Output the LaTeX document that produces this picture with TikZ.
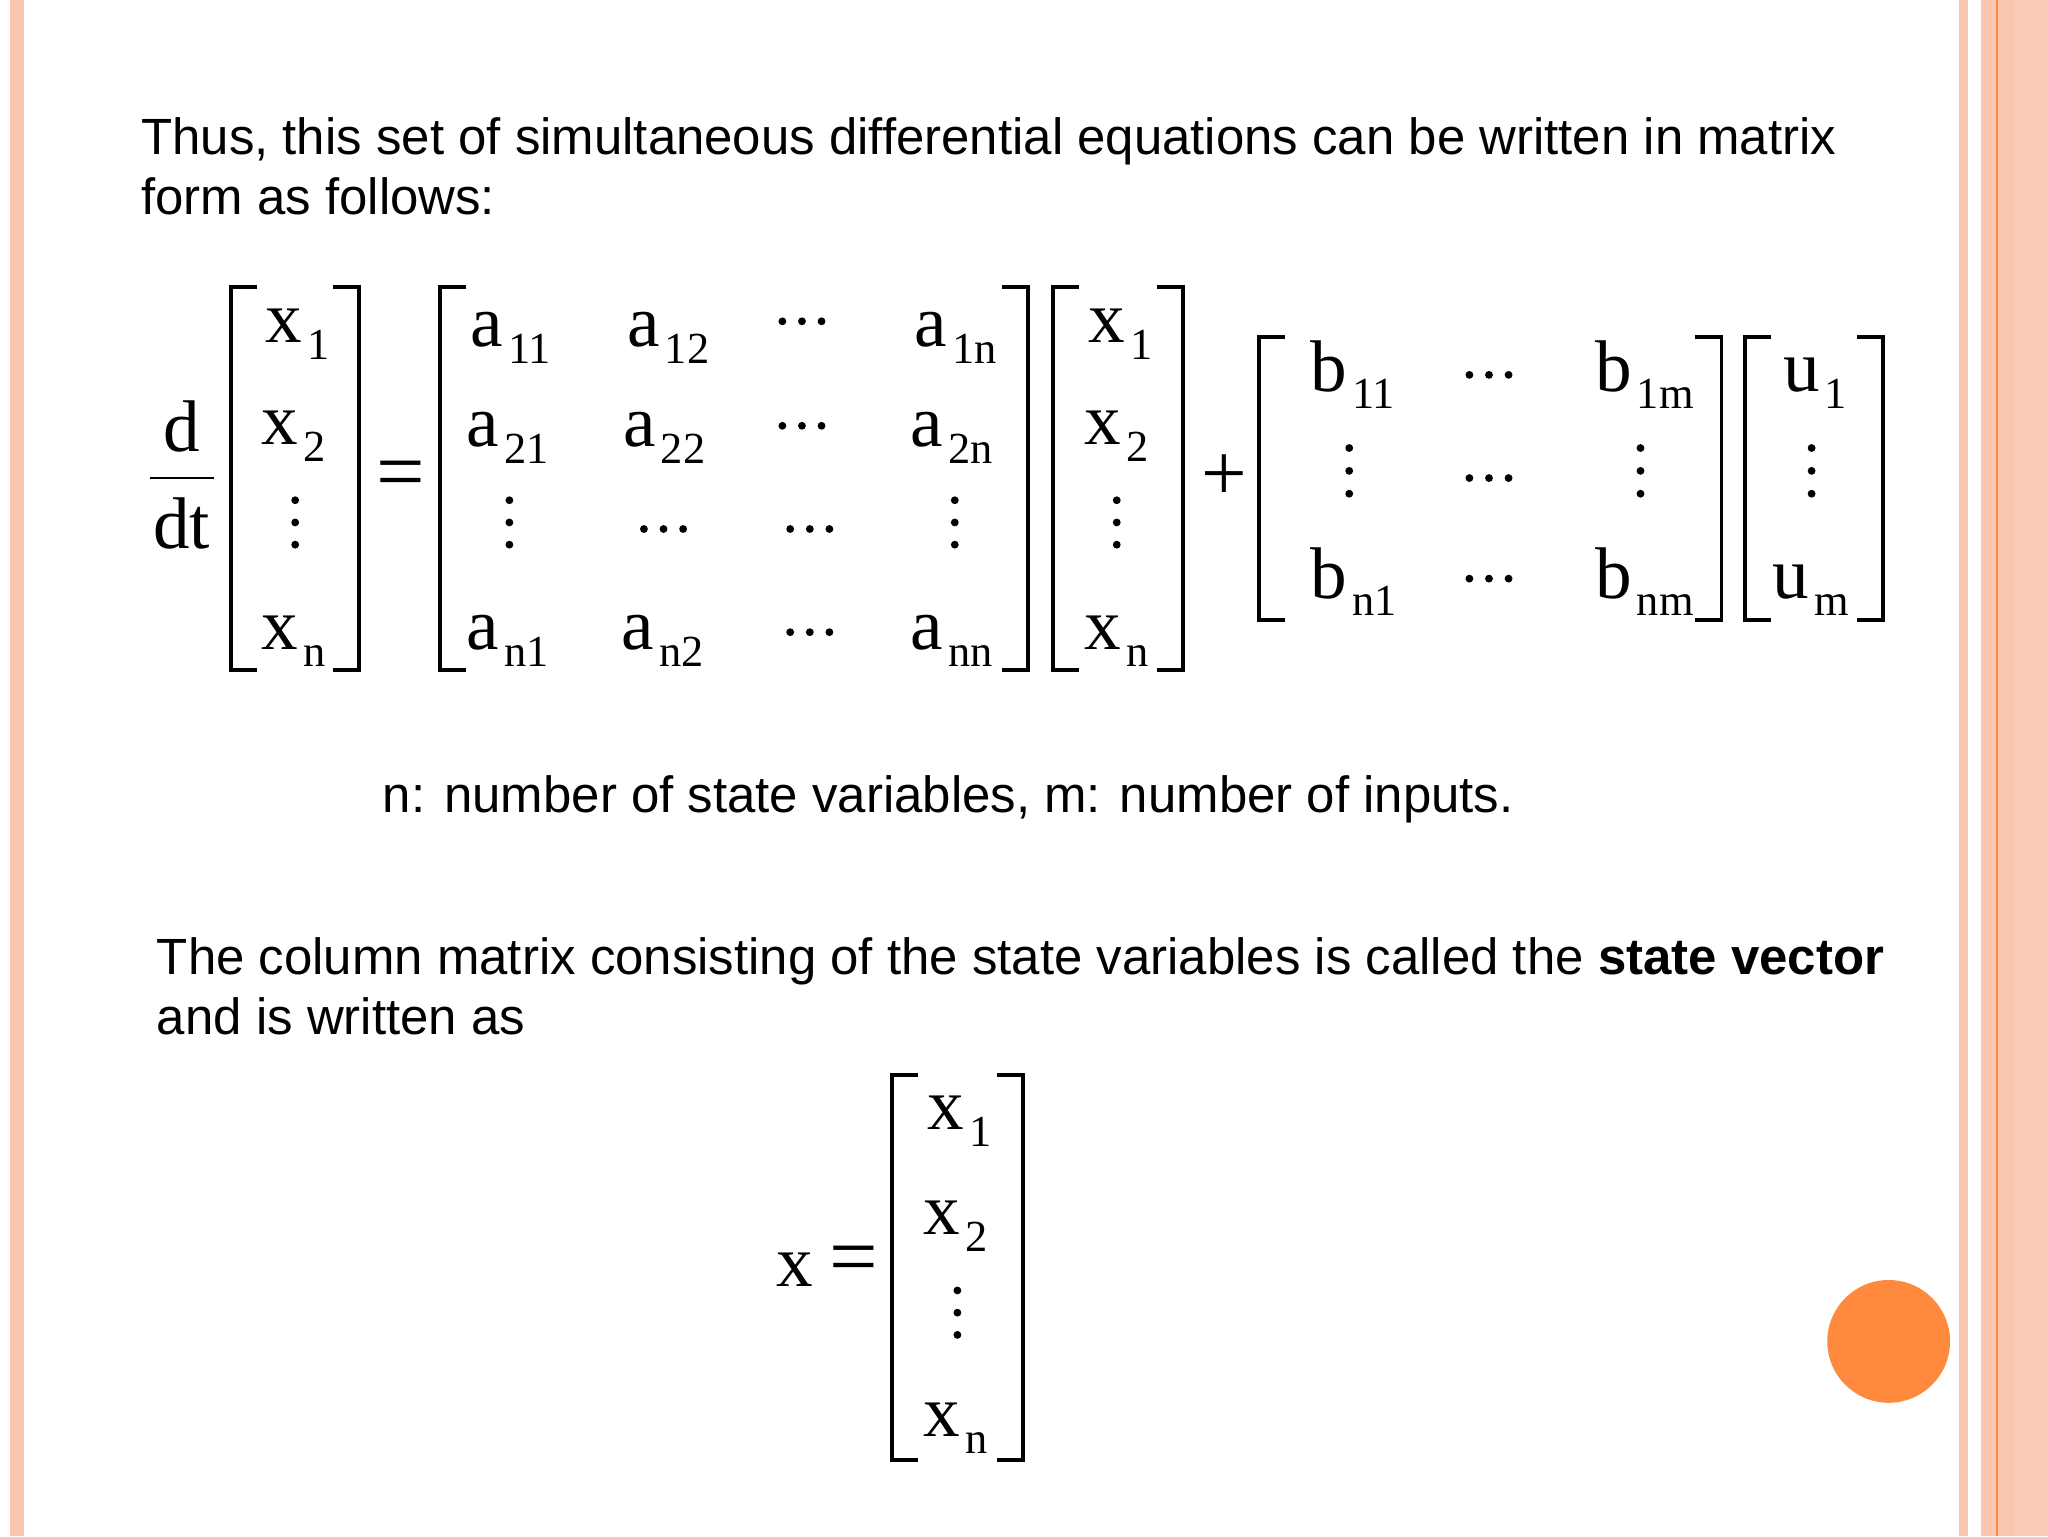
\documentclass[tikz,border=0pt]{standalone}
\usepackage{fontspec}
\setmainfont{Liberation Serif}
\newfontfamily\arialf{Liberation Sans}
\definecolor{salm}{HTML}{FBC6B0}
\definecolor{salm2}{HTML}{FCCDB6}
\definecolor{orng}{HTML}{FF8A3D}
\newcommand{\sv}[2]{\fontsize{56}{60}\selectfont #1\hspace{4pt}\raisebox{-13pt}{\fontsize{34}{36}\selectfont #2}}
\newcommand{\vd}[3]{\fill (#1,#2) circle (3) (#1,{(#2+#3)/2}) circle (3) (#1,#3) circle (3);}
\newcommand{\hd}[2]{\fill ({#1-15},#2) circle (3) (#1,#2) circle (3) ({#1+15},#2) circle (3);}
\begin{document}
\begin{tikzpicture}[x=1pt,y=-1pt,
  el/.style={anchor=base west,inner sep=0pt},
  body/.style={anchor=base west,inner sep=0pt,font=\arialf\fontsize{39}{46}\selectfont},
  brk/.style={line width=3pt}]
\useasboundingbox (0,0) rectangle (1568,1176);
\fill[white] (0,0) rectangle (1568,1176);
\fill[salm] (8,0) rectangle (18,1176);
\fill[salm] (1500,0) rectangle (1507,1176);
\fill[salm2] (1517,0) rectangle (1568,1176);
\fill[salm] (1517,0) rectangle (1543,1176);
\draw[orng,line width=1.2pt] (1529,0) -- (1529,1176);
\fill[orng] (1446,1027) circle (47);

\node[body] (t1) at (108,118) {Thus, this set of simultaneous differential equations can be written in matrix};
\node[body] (t2) at (108,164) {form as follows:};

% d/dt
\node[inner sep=0pt,anchor=base,font=\fontsize{56}{60}\selectfont] (d) at (139,346) {d};
\node[inner sep=0pt,anchor=base,font=\fontsize{56}{60}\selectfont] (dt) at (139,420) {dt};
\draw[line width=2pt] (115,366) -- (164,366);

% brackets
\newcommand{\LB}[3]{\draw[brk] (#1+20,#2) -- (#1,#2) -- (#1,#3) -- (#1+20,#3);}
\newcommand{\RB}[3]{\draw[brk] (#1-20,#2) -- (#1,#2) -- (#1,#3) -- (#1-20,#3);}
\LB{177}{220}{513}\RB{275}{220}{513}
\LB{337}{220}{513}\RB{787}{220}{513}
\LB{806}{220}{513}\RB{906}{220}{513}
\LB{964}{258}{475}\RB{1318}{258}{475}
\LB{1336}{258}{475}\RB{1442}{258}{475}
\LB{683}{823}{1118}\RB{783}{823}{1118}

% x vector
\node[el] (x1) at (203,262) {\sv{x}{1}};
\node[el] (x2) at (200,340) {\sv{x}{2}};
\vd{226}{383}{417}
\node[el] (xn) at (200,497) {\sv{x}{n}};

\node[inner sep=0pt,font=\fontsize{66}{70}\selectfont] (eq) at (307,368) {=};

% A
\node[el] (a11) at (360,265) {\sv{a}{11}};
\node[el] (a12) at (480,265) {\sv{a}{12}};
\hd{614}{246}
\node[el] (a1n) at (700,265) {\sv{a}{1n}};
\node[el] (a21) at (357,342) {\sv{a}{21}};
\node[el] (a22) at (477,342) {\sv{a}{22}};
\hd{614}{326}
\node[el] (a2n) at (697,342) {\sv{a}{2n}};
\vd{390}{383}{417}
\hd{508}{405}
\hd{620}{405}
\vd{731}{383}{417}
\node[el] (an1) at (357,497) {\sv{a}{n1}};
\node[el] (an2) at (476,497) {\sv{a}{n2}};
\hd{620}{484}
\node[el] (ann) at (697,497) {\sv{a}{nn}};

% x
\node[el] (y1) at (833,262) {\sv{x}{1}};
\node[el] (y2) at (830,340) {\sv{x}{2}};
\vd{855}{383}{417}
\node[el] (yn) at (830,497) {\sv{x}{n}};

\node[inner sep=0pt,font=\fontsize{62}{66}\selectfont] (pl) at (937,366) {+};

% B
\node[el] (b11) at (1003,300) {\sv{b}{11}};
\hd{1140}{287}
\node[el] (b1m) at (1221,300) {\sv{b}{1m}};
\vd{1033}{343}{378}
\hd{1140}{366}
\vd{1256}{343}{378}
\node[el] (bn1) at (1003,458) {\sv{b}{n1}};
\hd{1140}{443}
\node[el] (bnm) at (1221,458) {\sv{b}{nm}};

% u
\node[el] (u1) at (1365,300) {\sv{u}{1}};
\vd{1387}{343}{378}
\node[el] (um) at (1357,458) {\sv{u}{m}};

\node[body] (t3) at (293,622) {n: number of state variables, m: number of inputs.};
\node[body] (t4) at (120,746) {The column matrix consisting of the state variables is called the \textbf{state vector}};
\node[body] (t5) at (120,792) {and is written as};

% last
\node[el,font=\fontsize{56}{60}\selectfont] (xx) at (594,985) {x};
\node[inner sep=0pt,font=\fontsize{66}{70}\selectfont] (eq2) at (654,969) {=};
\node[el] (z1) at (710,865) {\sv{x}{1}};
\node[el] (z2) at (707,945) {\sv{x}{2}};
\vd{733}{988}{1022}
\node[el] (zn) at (707,1100) {\sv{x}{n}};
\end{tikzpicture}
\end{document}
